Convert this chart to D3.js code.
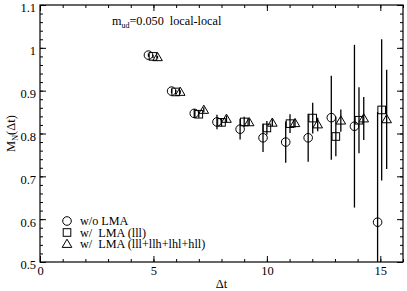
<!DOCTYPE html>
<html lang="en">
<head>
  <meta charset="UTF-8">
  <script src="https://d3js.org/d3.v7.min.js"></script>
  <style>
    body { margin: 0; background: white; }
    svg text { font-family: "Liberation Serif", "DejaVu Serif", serif; fill: black; }
  </style>
</head>
<body>
<div id="chart"></div>
<script>
  // data
  var circX = [4.78, 5.8, 6.8, 7.8, 8.82, 9.83, 10.83, 11.82, 12.84, 13.86, 14.88];
  var circY = [0.983, 0.899, 0.847, 0.827, 0.810, 0.790, 0.780, 0.790, 0.837, 0.817, 0.593];
  var circE = [0.004, 0.005, 0.010, 0.017, 0.024, 0.033, 0.048, 0.056, 0.098, 0.19, 0.257];

  var sqX = [4.98, 5.98, 7.0, 8.0, 9.0, 10.0, 11.02, 12.02, 13.04, 14.06, 15.06];
  var sqY = [0.980, 0.897, 0.845, 0.826, 0.827, 0.813, 0.823, 0.836, 0.793, 0.831, 0.855];
  var sqE = [0.004, 0.005, 0.008, 0.010, 0.012, 0.016, 0.022, 0.036, 0.046, 0.077, 0.165];

  var triX = [5.18, 6.18, 7.22, 8.22, 9.22, 10.24, 11.24, 12.24, 13.26, 14.27, 15.28];
  var triY = [0.978, 0.897, 0.855, 0.834, 0.826, 0.825, 0.824, 0.821, 0.830, 0.835, 0.833];
  var triE = [0.003, 0.004, 0.006, 0.008, 0.008, 0.008, 0.010, 0.016, 0.026, 0.05, 0.116];

  var xMajor = [0, 5, 10, 15];
  var yMajor = [0.5, 0.6, 0.7, 0.8, 0.9, 1.0, 1.1];
  var yLabels = ["0.5", "0.6", "0.7", "0.8", "0.9", "1", "1.1"];
  var legendNames = ["w/o LMA", "w/  LMA (lll)", "w/  LMA (lll+llh+lhl+hll)"];

  var width = 407, height = 291;
  var mLeft = 40, mRight = 403, mTop = 5, mBottom = 262;

  var svg = d3.select("#chart").append("svg")
    .attr("width", width)
    .attr("height", height);

  var x = d3.scaleLinear().domain([0, 16]).range([mLeft, mRight]);
  var y = d3.scaleLinear().domain([0.5, 1.1]).range([mBottom, mTop]);

  var xMinor = d3.range(0, 16.01, 1);
  var yMinor = d3.range(0, 31).map(function (i) { return 0.5 + i * 0.02; });

  function drawAxis(axis, tx, ty) {
    var g = svg.append("g").attr("transform", "translate(" + tx + "," + ty + ")").call(axis);
    g.select(".domain").remove();
    g.selectAll("line").attr("stroke", "black");
    g.selectAll("text").style("font-size", "12.5px").style("font-family", "Liberation Serif, serif");
    return g;
  }

  // minor ticks, all four sides, pointing in
  drawAxis(d3.axisBottom(x).tickValues(xMinor).tickSize(-3).tickFormat(""), 0, mBottom);
  drawAxis(d3.axisTop(x).tickValues(xMinor).tickSize(-3).tickFormat(""), 0, mTop);
  drawAxis(d3.axisLeft(y).tickValues(yMinor).tickSize(-3).tickFormat(""), mLeft, 0);
  drawAxis(d3.axisRight(y).tickValues(yMinor).tickSize(-3).tickFormat(""), mRight, 0);

  // major ticks
  drawAxis(d3.axisBottom(x).tickValues(xMajor).tickSize(-6).tickPadding(4).tickFormat(d3.format("d")), 0, mBottom);
  drawAxis(d3.axisTop(x).tickValues(xMajor).tickSize(-6).tickFormat(""), 0, mTop);
  var yAx = drawAxis(d3.axisLeft(y).tickValues(yMajor).tickSize(-6).tickPadding(4)
    .tickFormat(function (d, i) { return yLabels[i]; }), mLeft, 0);
  yAx.selectAll("text").attr("dy", "0.55em");
  drawAxis(d3.axisRight(y).tickValues(yMajor).tickSize(-6).tickFormat(""), mRight, 0);

  svg.append("rect")
    .attr("x", mLeft).attr("y", mTop)
    .attr("width", mRight - mLeft).attr("height", mBottom - mTop)
    .attr("fill", "none").attr("stroke", "black").attr("stroke-width", 1.2);

  svg.append("defs").append("clipPath").attr("id", "clip")
    .append("rect")
    .attr("x", mLeft).attr("y", mTop)
    .attr("width", mRight - mLeft).attr("height", mBottom - mTop);

  var plot = svg.append("g").attr("clip-path", "url(#clip)");

  var series = [
    { xs: circX, ys: circY, es: circE, sym: "circle" },
    { xs: sqX, ys: sqY, es: sqE, sym: "square" },
    { xs: triX, ys: triY, es: triE, sym: "triangle" }
  ];

  function symbol(g, sym, cx, cy) {
    if (sym == "circle") {
      g.append("circle").attr("cx", cx).attr("cy", cy).attr("r", 4.3)
        .attr("fill", "none").attr("stroke", "black").attr("stroke-width", 1);
    } else if (sym == "square") {
      g.append("rect").attr("x", cx - 3.8).attr("y", cy - 3.8).attr("width", 7.6).attr("height", 7.6)
        .attr("fill", "none").attr("stroke", "black").attr("stroke-width", 1);
    } else {
      g.append("path")
        .attr("d", "M" + cx + "," + (cy - 4.8) + "L" + (cx + 4.8) + "," + (cy + 3.4) + "L" + (cx - 4.8) + "," + (cy + 3.4) + "Z")
        .attr("fill", "none").attr("stroke", "black").attr("stroke-width", 1);
    }
  }

  series.forEach(function (s) {
    s.xs.forEach(function (xv, i) {
      plot.append("line")
        .attr("x1", x(xv)).attr("x2", x(xv))
        .attr("y1", y(s.ys[i] - s.es[i])).attr("y2", y(s.ys[i] + s.es[i]))
        .attr("stroke", "black").attr("stroke-width", 1.3);
      symbol(plot, s.sym, x(xv), y(s.ys[i]));
    });
  });

  // legend
  var legendSyms = ["circle", "square", "triangle"];
  legendNames.forEach(function (name, i) {
    var ly = 221 + i * 11.5;
    symbol(svg, legendSyms[i], 67, ly);
    svg.append("text")
      .attr("x", 80).attr("y", ly + 4)
      .attr("xml:space", "preserve")
      .style("white-space", "pre")
      .style("font-size", "12.2px")
      .text(name);
  });

  // annotation
  var ann = svg.append("text").attr("x", 112).attr("y", 25).style("font-size", "12.2px").attr("xml:space", "preserve").style("white-space", "pre");
  ann.append("tspan").text("m");
  ann.append("tspan").attr("dy", 3).style("font-size", "8px").text("ud");
  ann.append("tspan").attr("dy", -3).text("=0.050  local-local");

  // axis titles
  svg.append("text")
    .attr("x", (mLeft + mRight) / 2).attr("y", 288)
    .attr("text-anchor", "middle")
    .style("font-size", "12.5px")
    .text("\u0394t");

  var yl = svg.append("text")
    .attr("transform", "translate(15," + ((mTop + mBottom) / 2) + ") rotate(-90)")
    .attr("text-anchor", "middle")
    .style("font-size", "12.5px");
  yl.append("tspan").text("M");
  yl.append("tspan").attr("dy", 3).style("font-size", "8px").text("N");
  yl.append("tspan").attr("dy", -3).text("(\u0394t)");
</script>
</body>
</html>
